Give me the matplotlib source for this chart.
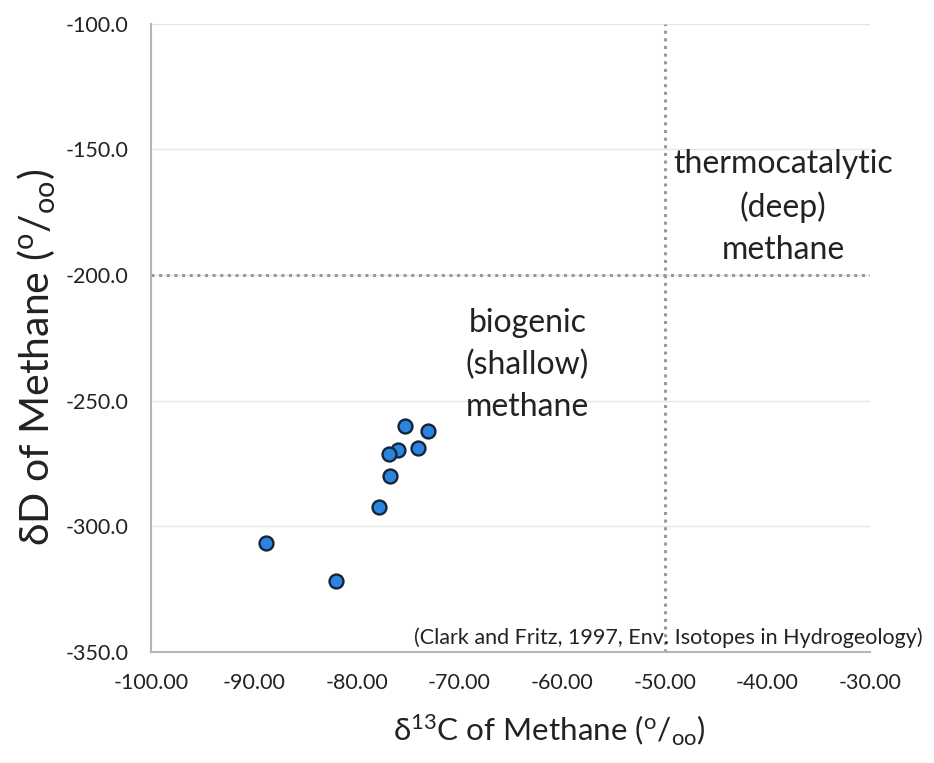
import matplotlib
matplotlib.use('Agg')
import matplotlib.pyplot as plt
from matplotlib.ticker import FormatStrFormatter

plt.rcParams['font.family'] = ['Lato', 'DejaVu Sans']
plt.rcParams['mathtext.fontset'] = 'custom'
plt.rcParams['mathtext.rm'] = 'Lato'
plt.rcParams['mathtext.it'] = 'Lato'

# isotope data
d13c = [-75.3, -73.0, -76.0, -76.8, -74.0, -76.7, -77.8, -88.8, -82.0]
dD = [-260.0, -262.0, -269.6, -271.2, -268.7, -279.9, -292.2, -306.5, -321.8]

# boundaries between biogenic and thermocatalytic methane
c_split = -50.0
d_split = -200.0

x_ticks = [-100, -90, -80, -70, -60, -50, -40, -30]
y_ticks = [-100, -150, -200, -250, -300, -350]

fig = plt.figure(figsize=(9.34, 7.63), dpi=100)
ax = fig.add_axes([0.1617, 0.1455, 0.77, 0.8237])

ax.set_xlim(-100, -30)
ax.set_ylim(-350, -100)
ax.set_xticks(x_ticks)
ax.set_yticks(y_ticks)
ax.xaxis.set_major_formatter(FormatStrFormatter('%.2f'))
ax.yaxis.set_major_formatter(FormatStrFormatter('%.1f'))
ax.tick_params(length=0, labelsize=15.5, colors='#222222')
ax.tick_params(axis='y', pad=16)
ax.tick_params(axis='x', pad=15)

ax.grid(axis='y', color='#e6e6e6', linewidth=1)
ax.set_axisbelow(True)
for s in ['top', 'right']:
    ax.spines[s].set_visible(False)
ax.spines['left'].set_color('#b5b5b5')
ax.spines['bottom'].set_color('#b5b5b5')
ax.spines['left'].set_linewidth(1.5)
ax.spines['bottom'].set_linewidth(1.5)

# dotted dividing lines
ax.axvline(c_split, color='#999999', linestyle=(0, (1, 1.5)), linewidth=2.2)
ax.axhline(d_split, color='#999999', linestyle=(0, (1, 1.5)), linewidth=2.2)

ax.scatter(d13c, dD, s=100, color='#2a84e0', edgecolors='#16243a', linewidths=1.7, zorder=3)

ax.text(-38.5, -173, 'thermocatalytic\n(deep)\nmethane', ha='center', va='center',
        fontsize=23, color='#222222', linespacing=1.5)
ax.text(-63.35, -235.8, 'biogenic\n(shallow)\nmethane', ha='center', va='center',
        fontsize=23, color='#222222', linespacing=1.5)
ax.text(-24.85, -344.5, '(Clark and Fritz, 1997, Env. Isotopes in Hydrogeology)',
        ha='right', va='center', fontsize=15.5, color='#222222', clip_on=False)

fig.text(0.588, 0.029, 'δ$^{13}$C of Methane ($^{o}$/$_{oo}$)', ha='center', va='baseline',
         fontsize=22.6, color='#222222')
fig.text(0.0396, 0.531, 'δD of Methane ($^{o}$/$_{oo}$)', ha='center', va='center',
         rotation=90, fontsize=29.5, color='#222222')

fig.savefig('out.png', dpi=100)
